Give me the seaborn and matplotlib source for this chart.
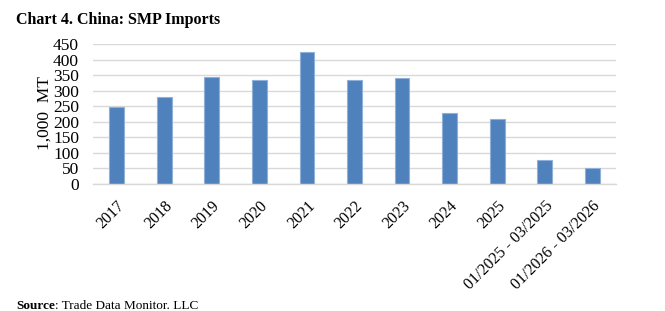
import matplotlib
matplotlib.use("Agg")
import matplotlib.pyplot as plt
import seaborn as sns
import pandas as pd

categories = ["2017", "2018", "2019", "2020", "2021", "2022", "2023", "2024", "2025",
              "01/2025 - 03/2025", "01/2026 - 03/2026"]
values = [247, 280, 343, 335, 424, 333, 342, 227, 209, 76, 50]
yticks = [0, 50, 100, 150, 200, 250, 300, 350, 400, 450]

sns.set_theme(style="white")
plt.rcParams['font.family'] = ['Liberation Serif', 'DejaVu Serif']

df = pd.DataFrame({"cat": categories, "val": values})

W, H = 665, 311
fig = plt.figure(figsize=(W/100, H/100), dpi=100)
ax = fig.add_axes([93/W, 1-184/H, (616-93)/W, 140/H])
sns.barplot(data=df, x="cat", y="val", ax=ax, color="#4F81BD", width=0.31,
            edgecolor="#8FB0D8", linewidth=0.8, saturation=1)
ax.set_ylim(0, 450)
ax.set_yticks(yticks)
ax.set_xlim(-0.5, len(categories) - 0.5)
ax.yaxis.grid(True, color="#D9D9D9", linewidth=1)
ax.set_axisbelow(True)
for s in ["top", "right", "left"]:
    ax.spines[s].set_visible(False)
ax.spines["bottom"].set_color("#D9D9D9")
ax.spines["bottom"].set_linewidth(1)
ax.tick_params(axis="y", labelsize=12.5, pad=10, length=0, labelcolor="black")
ax.tick_params(axis="x", labelsize=11.5, pad=10, length=0, labelcolor="black")
plt.setp(ax.get_xticklabels(), rotation=45, ha="right", rotation_mode="anchor")
ax.set_xlabel("")
ax.set_ylabel("1,000  MT", fontsize=12.5, color="black")
ax.yaxis.set_label_coords((53-93)/(616-93), (184-113)/140)

fig.text(16/W, 1-20/H, "Chart 4. China: SMP Imports", fontsize=11.5, fontweight="bold",
         va="center", ha="left", color="black")
t1 = fig.text(16/W, 1-306/H, "Source", fontsize=9.5, fontweight="bold",
              va="center", ha="left", color="black")
fig.canvas.draw()
bb = t1.get_window_extent()
fig.text(bb.x1/W, 1-306/H, ": Trade Data Monitor. LLC", fontsize=9.5,
         va="center", ha="left", color="black")

fig.savefig("out.png", dpi=100)
